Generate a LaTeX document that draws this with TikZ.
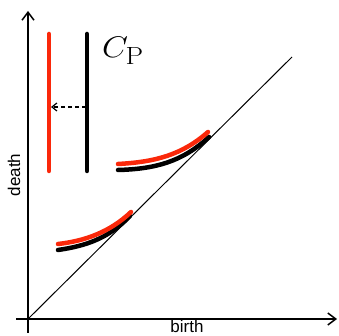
\documentclass[tikz,border=0pt]{standalone}
\usepackage{fontspec}
\setsansfont{Liberation Sans}
\usetikzlibrary{arrows.meta}
\definecolor{dgmred}{RGB}{250,40,10}
\begin{document}
\begin{tikzpicture}[x=1pt,y=1pt,
  axis/.style={line width=1.5pt,-{Straight Barb[length=8pt,width=12pt,line width=1.5pt]}},
  thickred/.style={line width=4.5pt,dgmred,line cap=round},
  thickblack/.style={line width=4.5pt,black,line cap=round},
  lbl/.style={font=\sffamily\fontsize{17}{19}\selectfont,inner sep=0pt}]
\useasboundingbox (0,0) rectangle (339,336);
\coordinate (ybot) at (28,3);
\coordinate (ytop) at (28,325);
\coordinate (xl) at (16,17);
\coordinate (xr) at (337,17);
\coordinate (O) at (28,17);
\coordinate (D) at (292,279);
\draw[axis] (ybot) -- (ytop);
\draw[axis] (xl) -- (xr);
\draw[line width=1pt] (O) -- (D);
% vertical bars
\coordinate (rt) at (49,302); \coordinate (rb) at (49,165);
\coordinate (bt) at (87,302); \coordinate (bb) at (87,165);
\draw[thickred] (rt) -- (rb);
\draw[thickblack] (bt) -- (bb);
\coordinate (as) at (86,229); \coordinate (ae) at (51,229);
\draw[line width=1.2pt,dash pattern=on 4pt off 3pt,-{Straight Barb[length=5pt,width=8pt,line width=1.2pt]}] (as) -- (ae);
\node[inner sep=0pt,anchor=base,xscale=1.35,yscale=1.2] (cp) at (123,278) {\fontsize{24.88}{26}\selectfont$C_{\mathrm{P}}$};
% lower curves
\coordinate (l1) at (58,86); \coordinate (l2) at (130,120);
\coordinate (l3) at (58,92); \coordinate (l4) at (131,124);
\draw[thickblack] (l1) .. controls (85,90) and (108,97) .. (l2);
\draw[thickred] (l3) .. controls (85,95) and (110,104) .. (l4);
% upper curves
\coordinate (u1) at (118,166); \coordinate (u2) at (209,199);
\coordinate (u3) at (118,172); \coordinate (u4) at (208,204);
\draw[thickblack] (u1) .. controls (155,167) and (182,174) .. (u2);
\draw[thickred] (u3) .. controls (155,174) and (182,181) .. (u4);
\node[lbl,rotate=90,anchor=base] (death) at (20,161) {death};
\node[lbl,anchor=base] (birth) at (187,3.5) {birth};
\end{tikzpicture}
\end{document}
